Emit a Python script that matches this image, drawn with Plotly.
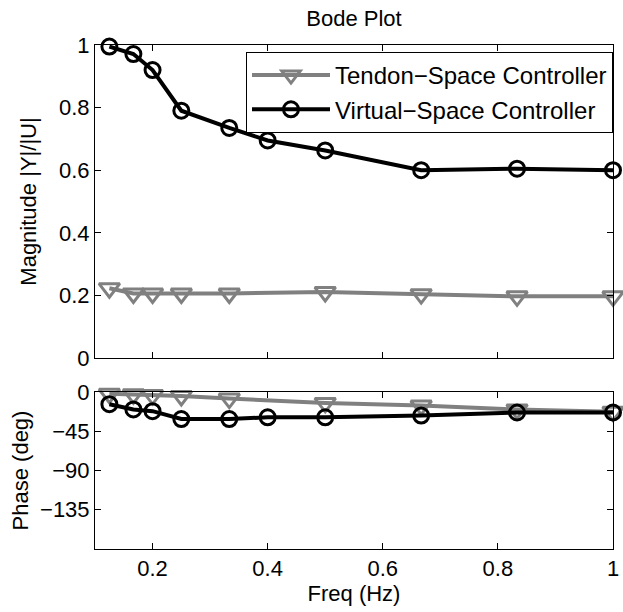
import plotly.graph_objects as go

# ---- data ----
freq_virtual = [0.125, 0.1667, 0.2, 0.25, 0.3333, 0.4, 0.5, 0.6667, 0.8333, 1.0]
mag_virtual = [0.995, 0.971, 0.92, 0.79, 0.735, 0.695, 0.663, 0.60, 0.605, 0.60]
phase_virtual = [-14, -20, -22, -31, -31, -29, -29, -27, -23.5, -23.5]

freq_tendon = [0.125, 0.1667, 0.2, 0.25, 0.3333, 0.5, 0.6667, 0.8333, 1.0]
mag_tendon = [0.223, 0.206, 0.206, 0.206, 0.206, 0.211, 0.204, 0.197, 0.197]
phase_tendon = [-2, -2.5, -3.5, -4.5, -7.5, -12.5, -15.5, -20, -22.5]

x_ticks = [0.2, 0.4, 0.6, 0.8, 1.0]
x_ticktext = ["0.2", "0.4", "0.6", "0.8", "1"]
mag_ticks = [0, 0.2, 0.4, 0.6, 0.8, 1.0]
mag_ticktext = ["0", "0.2", "0.4", "0.6", "0.8", "1"]
phase_ticks = [-135, -90, -45, 0]
phase_ticktext = ["\u2212135", "\u221290", "\u221245", "0"]

names = ["Tendon\u2212Space Controller", "Virtual\u2212Space Controller"]

GRAY = "#808080"
FONT = "Liberation Sans, Arial, Helvetica, sans-serif"
FS = 22

fig = go.Figure()

# magnitude
fig.add_trace(go.Scatter(
    x=freq_tendon, y=mag_tendon, name=names[0], mode="lines+markers",
    line=dict(color=GRAY, width=4),
    marker=dict(symbol="triangle-down-open", size=18, color=GRAY, line=dict(width=3, color=GRAY)),
    cliponaxis=False, xaxis="x", yaxis="y", legendgroup="t"))
fig.add_trace(go.Scatter(
    x=freq_virtual, y=mag_virtual, name=names[1], mode="lines+markers",
    line=dict(color="black", width=4),
    marker=dict(symbol="circle-open", size=15, color="black", line=dict(width=3, color="black")),
    cliponaxis=False, xaxis="x", yaxis="y", legendgroup="v"))
# phase
fig.add_trace(go.Scatter(
    x=freq_tendon, y=phase_tendon, name=names[0], mode="lines+markers",
    line=dict(color=GRAY, width=4),
    marker=dict(symbol="triangle-down-open", size=18, color=GRAY, line=dict(width=3, color=GRAY)),
    cliponaxis=False, xaxis="x2", yaxis="y2", showlegend=False, legendgroup="t"))
fig.add_trace(go.Scatter(
    x=freq_virtual, y=phase_virtual, name=names[1], mode="lines+markers",
    line=dict(color="black", width=4),
    marker=dict(symbol="circle-open", size=15, color="black", line=dict(width=3, color="black")),
    cliponaxis=False, xaxis="x2", yaxis="y2", showlegend=False, legendgroup="v"))

W, H = 623, 612
ml, mr, mt, mb = 95, 10, 45, 63
ph = H - mt - mb
pw = W - ml - mr
top_lo = (H - mb - 358) / ph
bot_hi = (H - mb - 392) / ph

axis_common = dict(showline=True, linecolor="black", linewidth=1, mirror="ticks",
                   ticks="inside", ticklen=6, tickwidth=1, tickcolor="black",
                   showgrid=False, zeroline=False, automargin=False,
                   tickfont=dict(family=FONT, size=FS, color="black"))

fig.update_layout(
    width=W, height=H,
    margin=dict(l=ml, r=mr, t=mt, b=mb, autoexpand=False),
    paper_bgcolor="white", plot_bgcolor="white",
    font=dict(family=FONT, color="black"),
    title=dict(text="Bode Plot", x=0.5, xref="paper", xanchor="center",
               y=1 - 18 / H, yref="container", yanchor="middle",
               font=dict(family=FONT, size=FS, color="black")),
    xaxis=dict(domain=[0, 1], range=[0.1, 1.0], tickvals=x_ticks, ticktext=x_ticktext,
               showticklabels=False, anchor="y", **axis_common),
    yaxis=dict(domain=[top_lo, 1], range=[0, 1.0], tickvals=mag_ticks, ticktext=mag_ticktext,
               anchor="x",
               title=dict(text="Magnitude |Y|/|U|", font=dict(family=FONT, size=FS), standoff=16),
               **axis_common),
    xaxis2=dict(domain=[0, 1], range=[0.1, 1.0], tickvals=x_ticks, ticktext=x_ticktext,
                anchor="y2", ticklabelstandoff=0,
                title=dict(text="Freq (Hz)", font=dict(family=FONT, size=FS), standoff=3),
                **axis_common),
    yaxis2=dict(domain=[0, bot_hi], range=[-180, 0], tickvals=phase_ticks, ticktext=phase_ticktext,
                anchor="x2",
                title=dict(text="Phase (deg)", font=dict(family=FONT, size=FS), standoff=5),
                **axis_common),
    legend=dict(x=(613 - ml) / pw, y=1 - 7 / ph, xanchor="right", yanchor="top",
                bgcolor="white", bordercolor="black", borderwidth=1,
                font=dict(family=FONT, size=24, color="black"),
                itemwidth=78, tracegroupgap=0),
    showlegend=True,
)

fig.write_html("out.html")
